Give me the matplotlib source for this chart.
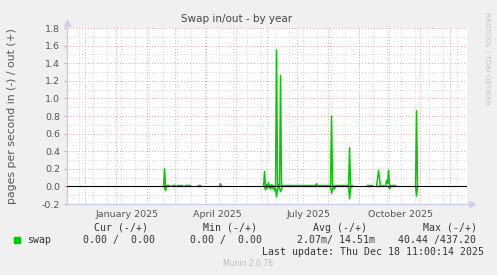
import numpy as np
import pandas as pd
import matplotlib
matplotlib.use("Agg")
import matplotlib.pyplot as plt

nan = np.nan

# daily averages, pages per second (nan = no data)
dates = [
    "2025-02-18", "2025-02-19", "2025-02-20", "2025-02-21", "2025-02-24", "2025-02-25",
    "2025-02-27", "2025-03-02", "2025-03-03",
    "2025-03-04", "2025-03-09", "2025-03-10",
    "2025-03-12", "2025-03-17", "2025-03-18",
    "2025-03-25", "2025-03-27", "2025-03-28",
    "2025-04-15", "2025-04-16", "2025-04-17", "2025-04-18",
    "2025-05-29", "2025-05-30", "2025-05-31", "2025-06-01", "2025-06-02", "2025-06-03",
    "2025-06-04", "2025-06-05", "2025-06-06", "2025-06-07", "2025-06-08", "2025-06-09",
    "2025-06-10", "2025-06-11", "2025-06-12", "2025-06-13", "2025-06-14", "2025-06-15",
    "2025-06-16", "2025-06-17", "2025-07-20", "2025-07-21", "2025-07-22", "2025-08-04",
    "2025-08-05", "2025-08-06", "2025-08-07", "2025-08-08", "2025-08-09", "2025-08-22",
    "2025-08-23", "2025-08-24", "2025-08-26", "2025-08-27",
    "2025-09-10", "2025-09-15", "2025-09-16",
    "2025-09-19", "2025-09-21", "2025-09-23", "2025-09-26", "2025-09-27",
    "2025-09-28", "2025-09-29", "2025-09-30", "2025-10-01", "2025-10-02", "2025-10-03",
    "2025-10-08", "2025-10-09",
    "2025-10-28", "2025-10-29", "2025-10-30", "2025-10-31",
]
swap_out = [
    0.00, 0.20, 0.00, 0.01, 0.01, nan,
    0.01, 0.01, nan,
    0.01, 0.01, nan,
    0.01, 0.01, nan,
    0.01, 0.01, nan,
    0.00, 0.03, 0.00, nan,
    0.00, 0.17, 0.00, 0.02, 0.00, 0.04,
    0.01, 0.00, 0.02, 0.01, 0.00, 0.00,
    0.00, 1.55, 0.00, 0.02, 0.00, 1.26,
    0.00, 0.01, 0.01, 0.03, 0.01, 0.01,
    0.80, 0.00, 0.01, 0.00, 0.01, 0.01,
    0.44, 0.00, 0.01, nan,
    0.01, 0.01, nan,
    0.00, 0.18, 0.00, 0.01, nan,
    0.01, 0.07, 0.03, 0.18, 0.00, 0.01,
    0.01, nan,
    0.00, 0.86, 0.00, nan,
]
swap_in = [
    0.00, 0.00, 0.05, 0.00, 0.00, nan,
    0.00, 0.00, nan,
    0.00, 0.00, nan,
    0.00, 0.00, nan,
    0.00, 0.00, nan,
    0.00, 0.00, 0.00, nan,
    0.00, 0.00, 0.04, 0.00, 0.02, 0.00,
    0.01, 0.03, 0.00, 0.02, 0.00, 0.05,
    0.02, 0.12, 0.03, 0.00, 0.02, 0.06,
    0.03, 0.00, 0.00, 0.00, 0.00, 0.00,
    0.08, 0.03, 0.00, 0.03, 0.00, 0.00,
    0.14, 0.02, 0.00, nan,
    0.00, 0.00, nan,
    0.00, 0.00, 0.00, 0.00, nan,
    0.00, 0.00, 0.00, 0.00, 0.03, 0.00,
    0.00, nan,
    0.00, 0.11, 0.00, nan,
]

month_labels = ["January 2025", "April 2025", "July 2025", "October 2025"]
label_months = ["2025-01-01", "2025-04-01", "2025-07-01", "2025-10-01"]

t_end = pd.Timestamp("2025-12-18 11:00")
t_start = t_end - pd.Timedelta(days=400)

bg = "#f0f0f0"
green = "#00cc00"
red_grid = "#eaa0a0"
grey_grid = "#cfcfcf"
axis_col = "#c8d0f0"

fig = plt.figure(figsize=(4.97, 2.75), dpi=100, facecolor=bg)
ax = fig.add_axes([67/497, 71/275, 400/497, 176/275])
ax.set_facecolor("white")

x = pd.to_datetime(dates)
ax.set_xlim(t_start, t_end)
ax.set_ylim(-0.2, 1.8)

# grid
for v in np.arange(-0.2, 1.81, 0.2):
    ax.axhline(v, color=red_grid, lw=0.7, ls=(0, (1, 2)), zorder=1)
for v in np.arange(-0.1, 1.8, 0.2):
    ax.axhline(v, color=grey_grid, lw=0.7, ls=(0, (1, 2)), zorder=0.5)
for d in pd.date_range("2024-11-25", t_end, freq="14D"):
    ax.axvline(d, color=grey_grid, lw=0.7, ls=(0, (1, 2)), zorder=0.5)
for d in pd.date_range("2024-12-01", t_end, freq="MS"):
    ax.axvline(d, color=red_grid, lw=0.7, ls=(0, (1, 2)), zorder=1)

ax.plot(x, -np.array(swap_in), color=green, lw=1.1, zorder=2)
ax.plot(x, swap_out, color=green, lw=1.1, zorder=3)
ax.axhline(0, color="black", lw=0.8, zorder=4)

for s in ["top", "right"]:
    ax.spines[s].set_visible(False)
for s in ["left", "bottom"]:
    ax.spines[s].set_color(axis_col)
    ax.spines[s].set_linewidth(1.0)
ax.plot([1.012], [0], marker=">", ms=4, color=axis_col, transform=ax.transAxes, clip_on=False)
ax.plot([0], [1.03], marker="^", ms=4, color=axis_col, transform=ax.transAxes, clip_on=False)

ax.set_yticks(np.arange(-0.2, 1.81, 0.2))
ax.set_yticklabels(["%.1f" % v for v in np.arange(-0.2, 1.81, 0.2)])
ax.set_xticks(pd.to_datetime(label_months) + pd.Timedelta(days=12))
ax.set_xticklabels(month_labels)
ax.tick_params(axis="y", length=2, color=red_grid, labelsize=6.8, labelcolor="#555555", pad=3)
ax.tick_params(axis="x", length=0, labelsize=6.8, labelcolor="#555555", pad=4)

fig.text(237/497, 1 - 19/275, "Swap in/out - by year", ha="center", va="center",
         fontsize=7.5, color="#444444")
fig.text(12/497, 1 - 116/275, "pages per second in (-) / out (+)", rotation=90,
         ha="center", va="center", fontsize=7.8, color="#555555")
fig.text(487/497, 1 - 58/275, "RRDTOOL / TOBI OETIKER", rotation=270,
         ha="center", va="center", fontsize=5.2, color="#c4c4c4")

mono = dict(family="DejaVu Sans Mono", fontsize=7.1, color="#333333", va="center")
fig.patches.append(plt.Rectangle((14/497, 1 - 243/275), 6/497, 6/275,
                                 transform=fig.transFigure, color=green))
fig.text(94/497, 1 - 228/275, "Cur (-/+)", **mono)
fig.text(203/497, 1 - 228/275, "Min (-/+)", **mono)
fig.text(313/497, 1 - 228/275, "Avg (-/+)", **mono)
fig.text(423/497, 1 - 228/275, "Max (-/+)", **mono)
fig.text(27/497, 1 - 240/275, "swap", **mono)
fig.text(83/497, 1 - 240/275, "0.00 /  0.00", **mono)
fig.text(190/497, 1 - 240/275, "0.00 /  0.00", **mono)
fig.text(297/497, 1 - 240/275, "2.07m/ 14.51m", **mono)
fig.text(398/497, 1 - 240/275, "40.44 /437.20", **mono)
fig.text(262/497, 1 - 252/275, "Last update: Thu Dec 18 11:00:14 2025", **mono)
fig.text(248/497, 1 - 264/275, "Munin 2.0.76", ha="center", va="center",
         fontsize=5.5, color="#bbbbbb")

fig.savefig("out.png", dpi=100, facecolor=bg)
